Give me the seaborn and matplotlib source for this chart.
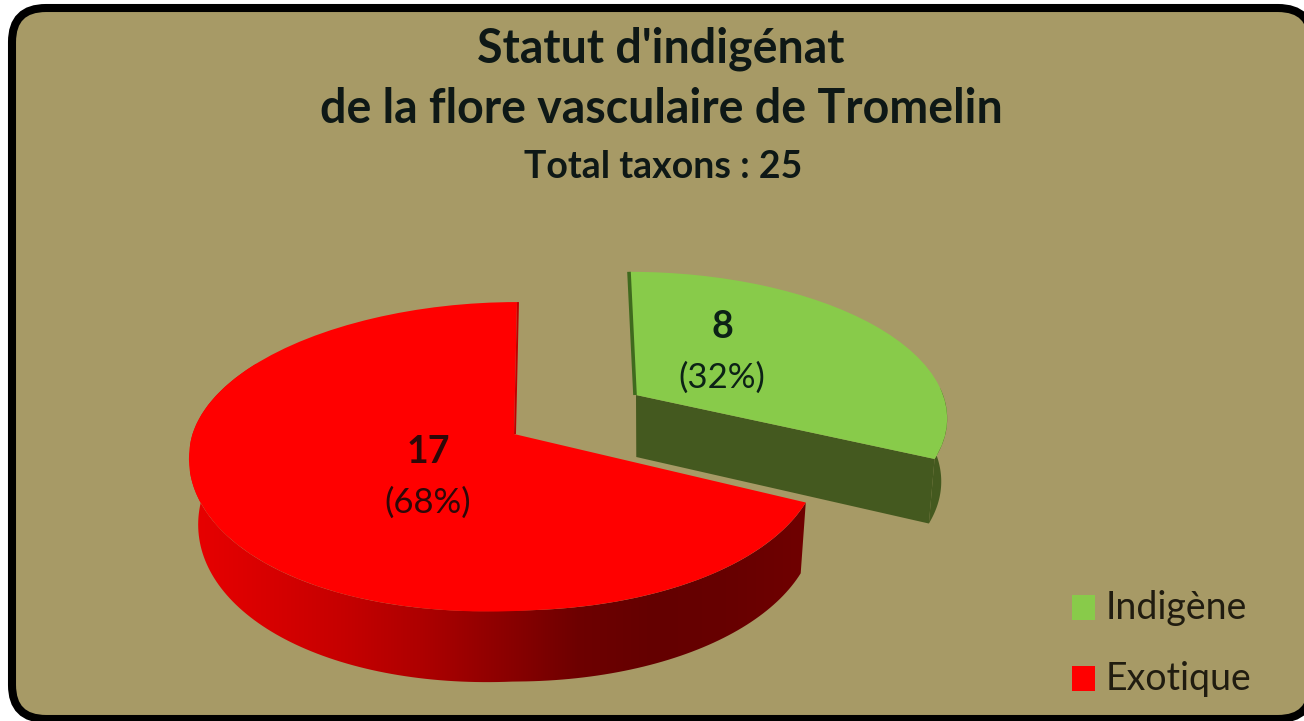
import numpy as np
import matplotlib
matplotlib.use("Agg")
import matplotlib.pyplot as plt
import seaborn as sns
from matplotlib.patches import FancyBboxPatch, Rectangle
from matplotlib.path import Path
from matplotlib.transforms import Transform
from matplotlib.colors import LinearSegmentedColormap

title_lines = ["Statut d'indigénat", "de la flore vasculaire de Tromelin"]
subtitle = "Total taxons : 25"
categories = ["Indigène", "Exotique"]
counts = [8, 17]
percents = [32, 68]

BG = "#A79A66"
GREEN = "#88CB4A"
RED = "#FF0000"
GREEN_SIDE = "#44591F"

sns.set_theme(style="white")
plt.rcParams["font.family"] = ["Lato", "DejaVu Sans"]

W, H = 1304, 721
fig = plt.figure(figsize=(W / 100, H / 100), dpi=100, facecolor="white")
ax = fig.add_axes([0, 0, 1, 1])

K = 0.1446
VX = 650.0
proj_green = dict(cx=636, cy=395, rx=307, ry=141, bow=0.0, shear=-6, depth=62, sag=0)
proj_red = dict(cx=514, cy=434, rx=312, ry=151, bow=-9.5, shear=3, depth=65, sag=16)


def project(u, v, p, z=0.0):
    u = np.asarray(u, dtype=float)
    v = np.asarray(v, dtype=float)
    s = 1 / (1 + K * v)
    x = p["cx"] + p["rx"] * u * s + p["bow"] * u ** 2 + p["shear"] * v
    y = p["cy"] - p["ry"] * v * s + z * (p["depth"] - 6 * v) + p["sag"] * np.clip(u * v, 0, None)
    x = VX + (x - VX) * (1 - 0.02 * z)
    return x, y


class Tilt(Transform):
    input_dims = output_dims = 2
    is_separable = False
    has_inverse = False

    def __init__(self, p):
        super().__init__()
        self.p = p

    def transform_non_affine(self, xy):
        xy = np.asarray(xy, dtype=float)
        x, y = project(xy[:, 0], xy[:, 1], self.p)
        return np.column_stack([x, y])


def rim(a0, a1, p, z):
    a = np.radians(np.linspace(a0, a1, 160))
    return np.column_stack(project(np.sin(a), np.cos(a), p, z))


# Pie: one wedge per category, tilted by the custom projection
wedges, _ = ax.pie(counts, colors=[GREEN, RED], startangle=90, counterclock=False,
                   radius=1, wedgeprops=dict(linewidth=0))
ax.set_aspect("auto")
ax.set_xlim(0, W)
ax.set_ylim(H, 0)
ax.axis("off")

split = 360 * counts[0] / sum(counts)

# Frame (its right side runs past the image edge)
ax.add_patch(FancyBboxPatch((12, 8), 1300, 711, boxstyle="round,pad=0,rounding_size=34",
                            facecolor=BG, edgecolor="black", linewidth=5.8, zorder=0, clip_on=True))

# Green slice: side walls
gp = proj_green
ax.fill(*np.vstack([rim(split - 28, split, gp, 0), rim(split, split - 28, gp, 1)]).T,
        color=GREEN_SIDE, lw=0, zorder=1)
apex0, apex1 = project(0, 0, gp, 0), project(0, 0, gp, 1)
cor0 = rim(split, split, gp, 0)[0]
cor1 = rim(split, split, gp, 1)[0]
ax.fill([apex0[0], cor0[0], cor1[0], apex1[0]], [apex0[1], cor0[1], cor1[1], apex1[1]],
        color=GREEN_SIDE, lw=0, zorder=1)
wedges[0].set_transform(Tilt(gp) + ax.transData)
wedges[0].set_zorder(2)
wedges[0].set_clip_on(False)
top_g = project(0, 1, gp, 0)
ax.plot([top_g[0] - 1, apex0[0] - 1], [top_g[1], apex0[1]], color="#3F6A1E", lw=2.6, zorder=2.5,
        solid_capstyle="butt")

# Red slice: shaded wall with a horizontal gradient
rp = proj_red
wall = np.vstack([rim(split, 300, rp, 0), rim(300, split, rp, 1)])
shade = LinearSegmentedColormap.from_list(
    "wall", sns.blend_palette(["#E80000", "#D20000", "#B80000", "#8E0000", "#640000", "#640000", "#700000"], 9))
im = ax.imshow(np.linspace(0, 1, 256)[None, :], cmap=shade, aspect="auto",
               extent=(190, 810, 700, 300), zorder=3)
im.set_clip_path(Path(wall, closed=True), transform=ax.transData)
ax.set_xlim(0, W)
ax.set_ylim(H, 0)
wedges[1].set_transform(Tilt(rp) + ax.transData)
wedges[1].set_zorder(4)
wedges[1].set_clip_on(False)
top_r = project(0, 1, rp, 0)
apex_r = project(0, 0, rp, 0)
ax.plot([top_r[0] + 1, apex_r[0] + 1], [top_r[1], apex_r[1]], color="#C00000", lw=1.4, zorder=4.5,
        solid_capstyle="butt")

# Titles
ink = "#0E1816"
ax.text(661, 49, title_lines[0], ha="center", va="center", fontsize=33.5, fontweight="bold", color=ink, zorder=6)
ax.text(661, 109, title_lines[1], ha="center", va="center", fontsize=33.5, fontweight="bold", color=ink, zorder=6)
ax.text(663, 167, subtitle, ha="center", va="center", fontsize=27, fontweight="bold", color=ink, zorder=6)

# Slice labels
label_xy = [(722, 327, 378), (428, 452, 503)]
label_col = ["#0C2216", "#2E0808"]
for n, pc, (x, y1, y2), col in zip(counts, percents, label_xy, label_col):
    ax.text(x, y1, str(n), ha="center", va="center", fontsize=27, fontweight="bold", color=col, zorder=6)
    ax.text(x, y2, f"({pc}%)", ha="center", va="center", fontsize=25, color=col, zorder=6)

# Legend
for name, col, y in zip(categories, [GREEN, RED], [607, 678]):
    ax.add_patch(Rectangle((1072, y - 12), 23, 25, facecolor=col, edgecolor="none", zorder=6))
    ax.text(1106, y + 1, name, ha="left", va="center", fontsize=27, color="#201C10", zorder=6)

fig.savefig("out.png", dpi=100, facecolor="white")
